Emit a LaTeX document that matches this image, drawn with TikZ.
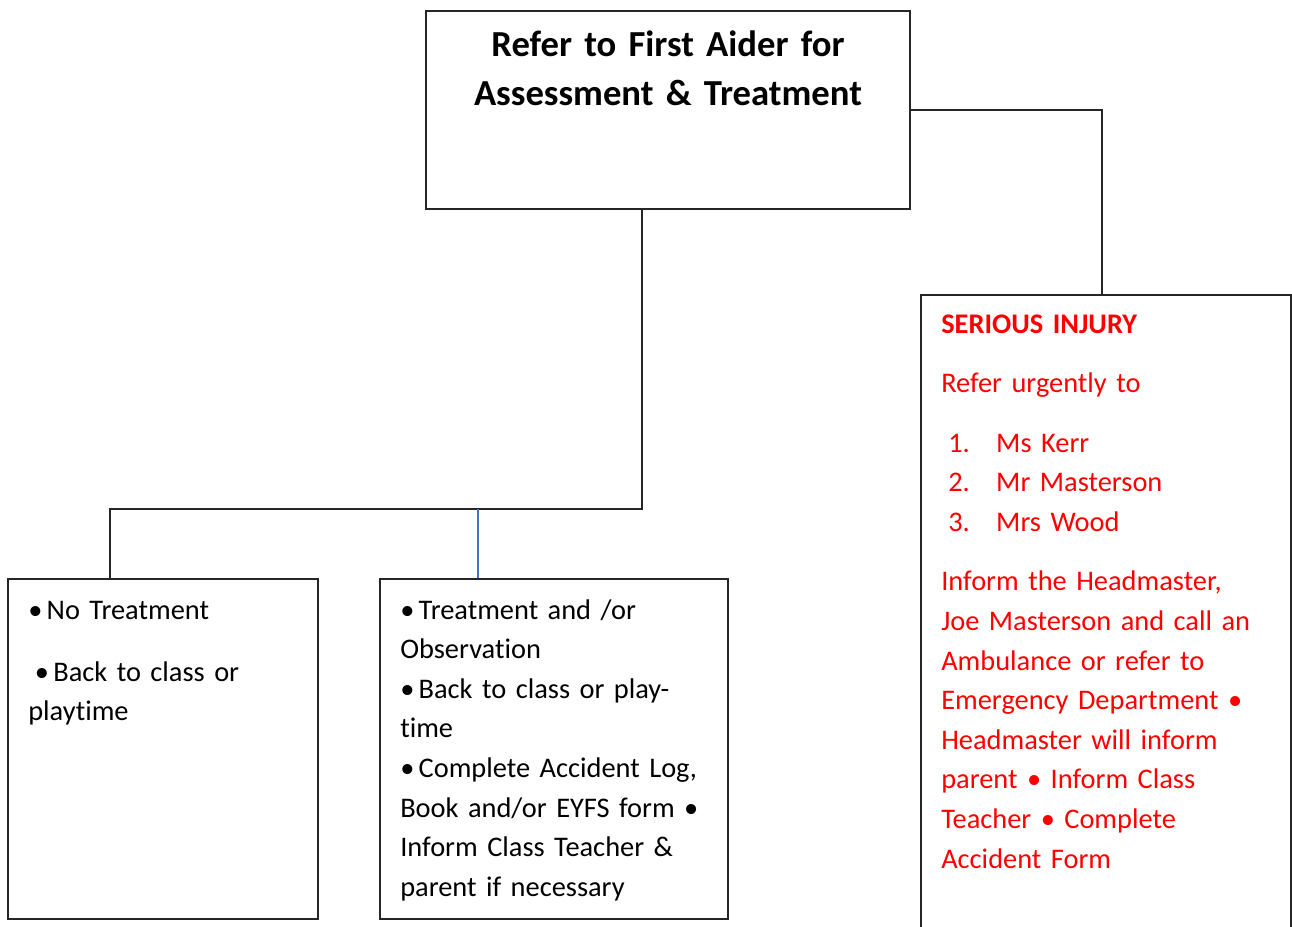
\documentclass[tikz,border=0pt]{standalone}
\usepackage{fontspec}
\setmainfont{Carlito}[Ligatures=NoCommon]
\usetikzlibrary{fit}
\definecolor{linkblue}{RGB}{68,114,196}
\newcommand\bul{•\hspace{3.2pt}}
\tikzset{
	box/.style={draw=black!85, line width=1pt, inner sep=0pt},
	link/.style={draw=black!85, line width=1pt},
	bluelink/.style={draw=linkblue, line width=1pt},
	txt/.style={anchor=base west, inner sep=0pt, align=left, text width=300pt, font=\fontsize{21.3}{29.7}\selectfont},
	title/.style={anchor=base, inner sep=0pt, align=center, text width=380pt, font=\fontsize{27.5}{36.5}\selectfont\bfseries}
}

\begin{document}
\begin{tikzpicture}[x=0.75pt,y=-0.75pt]
	\useasboundingbox (0,0) rectangle (1292,927);
	\node[box, fit={(426,11) (910,209)}] (firstaid) {};
	\node[box, fit={(8,579) (318,919)}] (none) {};
	\node[box, fit={(380,579) (728,919)}] (treat) {};
	\node[box, fit={(921,295) (1291,960)}] (serious) {};

	\node[title] (firstaidtxt) at (668,57) {Refer to First Aider for\\Assessment \& Treatment};
	\node[txt] (nonetxt) at (28,619) {\bul No Treatment\\[16.8pt]
		\hspace*{5pt}\bul Back to class or\\
		playtime};
	\node[txt] (treattxt) at (400,619) {\bul Treatment and /or\\
		Observation\\
		\bul Back to class or play-\\
		time\\
		\bul Complete Accident Log,\\
		Book and/or EYFS form •\\
		Inform Class Teacher \&\\
		parent if necessary};
	\node[txt, text=red] (serioustxt) at (941,333) {\textbf{SERIOUS INJURY}\\[15pt]
		Refer urgently to\\[15pt]
		\hspace*{5.25pt}\makebox[36pt][l]{1.}Ms Kerr\\
		\hspace*{5.25pt}\makebox[36pt][l]{2.}Mr Masterson\\
		\hspace*{5.25pt}\makebox[36pt][l]{3.}Mrs Wood\\[15pt]
		Inform the Headmaster,\\
		Joe Masterson and call an\\
		Ambulance or refer to\\
		Emergency Department •\\
		Headmaster will inform\\
		parent • Inform Class\\
		Teacher • Complete\\
		Accident Form};

	\coordinate (split) at (642,509);
	\coordinate (leftend) at (110,509);
	\coordinate (bluetap) at (478,509);
	\draw[link] (firstaid.south -| split) -- (split) -- (leftend) -- (leftend |- none.north);
	\draw[bluelink] (bluetap) -- (bluetap |- treat.north);
	\draw[link] (firstaid.east) -| ([xshift=-3pt]serious.north);
\end{tikzpicture}
\end{document}
